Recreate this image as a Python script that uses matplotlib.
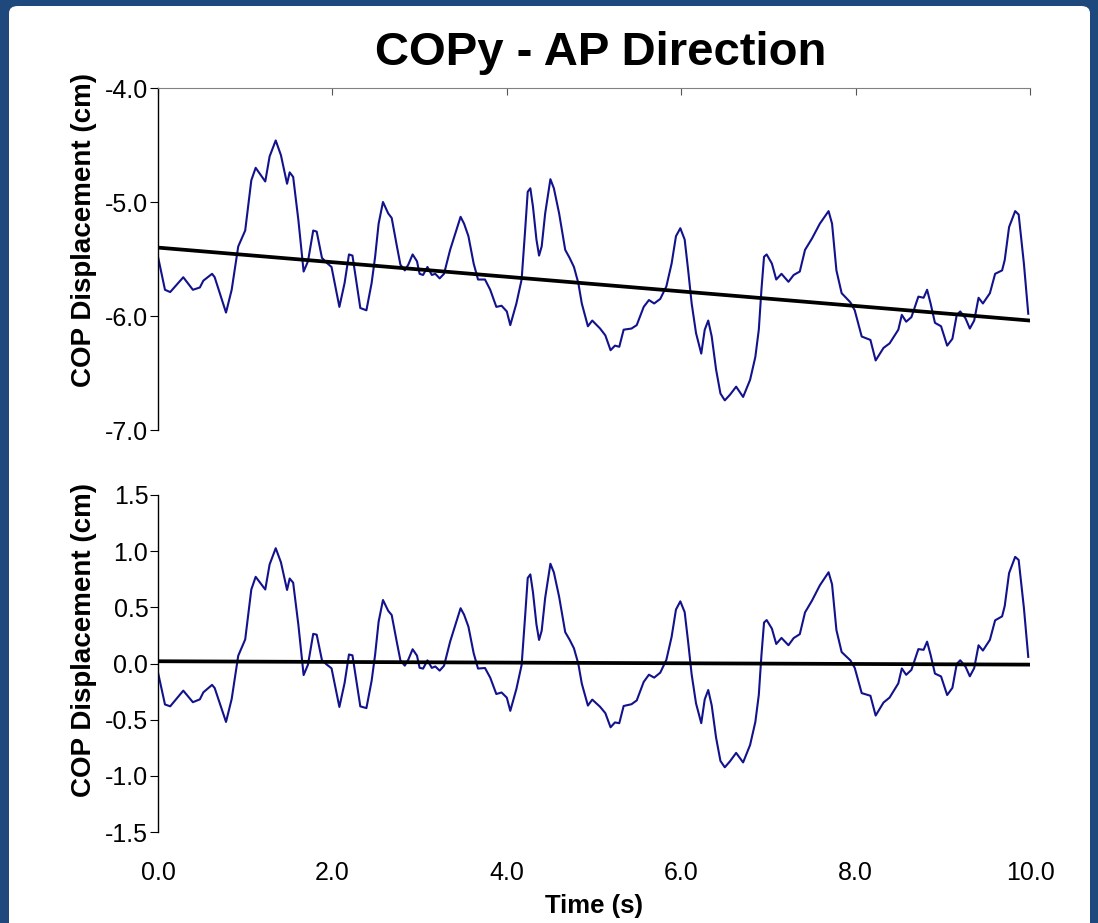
import numpy as np
import matplotlib
matplotlib.use('Agg')
import matplotlib.pyplot as plt
from matplotlib.patches import FancyBboxPatch
from matplotlib.ticker import FormatStrFormatter

plt.rcParams['font.family'] = ['Liberation Sans', 'DejaVu Sans']

# ===================== data =====================
time_s = [0.00, 0.08, 0.14, 0.29, 0.40, 0.48, 0.52, 0.62, 0.65, 0.78, 0.845, 0.92,
          1.00, 1.07, 1.12, 1.23, 1.28, 1.35, 1.41, 1.48, 1.51, 1.55, 1.61, 1.67,
          1.72, 1.78, 1.82, 1.88, 1.93, 1.99, 2.08, 2.14, 2.19, 2.23, 2.32, 2.39,
          2.45, 2.49, 2.53, 2.58, 2.64, 2.68, 2.74, 2.78, 2.83, 2.87, 2.92, 2.97,
          3.00, 3.04, 3.09, 3.14, 3.18, 3.23, 3.28, 3.35, 3.42, 3.47, 3.51, 3.56,
          3.62, 3.67, 3.75, 3.81, 3.88, 3.94, 4.00, 4.04, 4.11, 4.17, 4.21, 4.24,
          4.27, 4.30, 4.34, 4.37, 4.40, 4.44, 4.50, 4.54, 4.60, 4.67, 4.72, 4.77,
          4.82, 4.86, 4.93, 4.98, 5.07, 5.13, 5.19, 5.24, 5.29, 5.34, 5.43, 5.49,
          5.57, 5.63, 5.69, 5.76, 5.83, 5.89, 5.94, 5.99, 6.04, 6.08, 6.12, 6.17,
          6.23, 6.27, 6.31, 6.35, 6.40, 6.45, 6.50, 6.56, 6.63, 6.71, 6.79, 6.85,
          6.89, 6.92, 6.95, 6.98, 7.04, 7.09, 7.15, 7.23, 7.29, 7.36, 7.42, 7.50,
          7.59, 7.69, 7.73, 7.78, 7.84, 7.94, 7.99, 8.07, 8.17, 8.23, 8.32, 8.39,
          8.49, 8.53, 8.58, 8.64, 8.72, 8.78, 8.82, 8.86, 8.91, 8.98, 9.05, 9.11,
          9.16, 9.20, 9.26, 9.31, 9.36, 9.41, 9.46, 9.54, 9.60, 9.68, 9.71, 9.76,
          9.83, 9.87, 9.93, 9.98]
copy_cm = [-5.48, -5.77, -5.79, -5.66, -5.77, -5.75, -5.69, -5.63, -5.66, -5.97, -5.77, -5.39,
           -5.25, -4.81, -4.70, -4.82, -4.60, -4.46, -4.59, -4.84, -4.74, -4.78, -5.16, -5.61,
           -5.52, -5.25, -5.26, -5.49, -5.53, -5.57, -5.92, -5.71, -5.46, -5.47, -5.93, -5.95,
           -5.71, -5.48, -5.19, -5.00, -5.10, -5.14, -5.39, -5.55, -5.60, -5.55, -5.46, -5.52,
           -5.63, -5.64, -5.57, -5.64, -5.63, -5.67, -5.63, -5.42, -5.25, -5.13, -5.19, -5.30,
           -5.54, -5.68, -5.68, -5.77, -5.92, -5.91, -5.96, -6.08, -5.89, -5.68, -5.25, -4.91,
           -4.88, -5.04, -5.33, -5.47, -5.39, -5.10, -4.80, -4.88, -5.10, -5.42, -5.49, -5.57,
           -5.71, -5.89, -6.09, -6.04, -6.11, -6.17, -6.30, -6.26, -6.27, -6.12, -6.11, -6.08,
           -5.92, -5.86, -5.89, -5.85, -5.74, -5.54, -5.30, -5.23, -5.33, -5.60, -5.89, -6.15,
           -6.33, -6.12, -6.04, -6.18, -6.47, -6.68, -6.74, -6.69, -6.62, -6.71, -6.56, -6.36,
           -6.12, -5.77, -5.48, -5.46, -5.54, -5.68, -5.63, -5.70, -5.64, -5.61, -5.42, -5.32,
           -5.19, -5.08, -5.19, -5.60, -5.80, -5.88, -5.95, -6.18, -6.21, -6.39, -6.28, -6.24,
           -6.12, -5.99, -6.05, -6.01, -5.83, -5.84, -5.77, -5.89, -6.06, -6.09, -6.26, -6.20,
           -5.99, -5.96, -6.02, -6.11, -6.04, -5.84, -5.89, -5.80, -5.63, -5.60, -5.51, -5.22,
           -5.08, -5.11, -5.54, -5.98]

# linear trend lines (value at t = 0 and t = 10)
trend_t = [0.0, 10.0]
trend_top = [-5.40, -6.04]
trend_bottom = [0.02, -0.01]

x_ticks = [0, 2, 4, 6, 8, 10]
top_yticks = [-7.0, -6.0, -5.0, -4.0]
bottom_yticks = [-1.5, -1.0, -0.5, 0.0, 0.5, 1.0, 1.5]

t = np.array(time_s)
y_top = np.array(copy_cm)
# detrended signal for the lower panel
y_bottom = y_top - np.interp(t, trend_t, trend_top)

# ===================== figure =====================
W, H = 1098, 923
fig = plt.figure(figsize=(W / 100, H / 100), dpi=100)
fig.patch.set_facecolor('#1F497D')
panel = FancyBboxPatch((9 / W, -0.05), (1090 - 9) / W, 1.05 - 6 / H,
                       boxstyle='round,pad=0,rounding_size=0.008',
                       transform=fig.transFigure, facecolor='white',
                       edgecolor='none', zorder=-10)
fig.add_artist(panel)

line_col = '#12128C'

ax1 = fig.add_axes([158 / W, 1 - 430 / H, 872 / W, 342 / H])
ax2 = fig.add_axes([158 / W, 1 - 832 / H, 872 / W, 337 / H])

for ax in (ax1, ax2):
    ax.set_facecolor('none')
    ax.set_xlim(0, 10)
    ax.spines['right'].set_visible(False)
    ax.spines['bottom'].set_visible(False)
    ax.spines['left'].set_linewidth(1.0)
    ax.tick_params(axis='y', direction='out', length=6, width=0.8,
                   labelsize=18, pad=1)
    ax.yaxis.set_major_formatter(FormatStrFormatter('%.1f'))
    ax.set_ylabel('COP Displacement (cm)', fontsize=20, fontweight='bold')

# top panel
ax1.plot(t, y_top, color=line_col, lw=1.5)
ax1.plot(trend_t, trend_top, color='black', lw=2.7)
ax1.set_ylim(-7.0, -4.0)
ax1.set_yticks(top_yticks)
ax1.spines['top'].set_color('#808080')
ax1.xaxis.set_ticks_position('top')
ax1.set_xticks(x_ticks)
ax1.tick_params(axis='x', direction='in', length=5, width=0.8, labeltop=False,
                labelbottom=False, color='#555555')
ax1.yaxis.set_label_coords(-0.070, 0.585)

# bottom panel
ax2.plot(t, y_bottom, color=line_col, lw=1.5)
ax2.plot(trend_t, trend_bottom, color='black', lw=2.7)
ax2.set_ylim(-1.5, 1.5)
ax2.set_yticks(bottom_yticks)
ax2.spines['top'].set_visible(False)
ax2.set_xticks(x_ticks)
ax2.xaxis.set_major_formatter(FormatStrFormatter('%.1f'))
ax2.tick_params(axis='x', length=0, labelsize=18, pad=21)
ax2.set_xlabel('Time (s)', fontsize=18.5, fontweight='bold', labelpad=6)
ax2.yaxis.set_label_coords(-0.070, 0.57)

fig.text(601 / W, 1 - 53 / H, 'COPy - AP Direction', ha='center', va='center',
         fontsize=34, fontweight='bold')

plt.savefig('out.png', dpi=100, facecolor=fig.get_facecolor())
